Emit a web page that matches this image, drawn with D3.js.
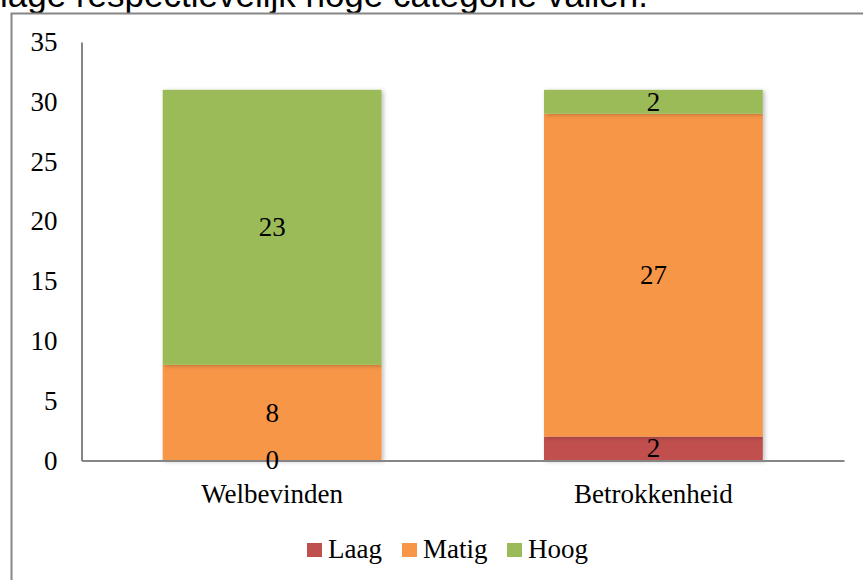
<!DOCTYPE html>
<html>
<head>
<meta charset="utf-8">
<script src="https://cdn.jsdelivr.net/npm/d3@7"></script>
<style>
  body { margin: 0; background: #fff; }
  text { font-family: "Liberation Serif", "DejaVu Serif", serif; }
</style>
</head>
<body>
<svg></svg>
<script>
// data
var categories = ["Welbevinden", "Betrokkenheid"];
var seriesNames = ["Laag", "Matig", "Hoog"];
var laag = [0, 2];
var matig = [8, 27];
var hoog = [23, 2];
var yTicks = [0, 5, 10, 15, 20, 25, 30, 35];
var colors = ["#C0504D", "#F79646", "#9BBB59"];

var W = 863, H = 580;
var fs = "27px";
var svg = d3.select("svg").attr("width", W).attr("height", H);

// bit of the document text above the chart
svg.append("text")
    .attr("x", 0).attr("y", 7)
    .style("font-family", "'Liberation Sans', sans-serif")
    .style("font-size", "35px")
    .attr("fill", "#000")
    .text("lage respectievelijk hoge categorie vallen.");

// chart frame
svg.append("path")
    .attr("d", "M11.5," + H + "V13.5H" + W)
    .attr("fill", "none")
    .attr("stroke", "#868686")
    .attr("stroke-width", 2);

// plot area (window.top is reserved, so own names)
var pLeft = 81.5, pRight = 844, pTop = 42, pBottom = 460.5;

var table = categories.map(function(c, i) {
    return { cat: c, Laag: laag[i], Matig: matig[i], Hoog: hoog[i] };
});
var stacked = d3.stack().keys(seriesNames)(table);

var x = d3.scaleBand().domain(categories).range([pLeft, pRight]).paddingInner(0.426).paddingOuter(0.213);
var y = d3.scaleLinear().domain([0, 35]).range([pBottom, pTop]);

var defs = svg.append("defs");
var f = defs.append("filter").attr("id", "sh").attr("x", "-10%").attr("y", "-10%").attr("width", "130%").attr("height", "130%");
f.append("feDropShadow").attr("dx", 2).attr("dy", 1).attr("stdDeviation", 2).attr("flood-color", "#000").attr("flood-opacity", 0.25);

// bars
var layers = svg.append("g").selectAll("g")
    .data(stacked)
    .enter().append("g")
    .attr("fill", function(d, i) { return colors[i]; });

layers.selectAll("rect")
    .data(function(d) { return d; })
    .enter().append("rect")
    .attr("x", function(d) { return x(d.data.cat); })
    .attr("width", x.bandwidth())
    .attr("y", function(d) { return y(d[1]); })
    .attr("height", function(d) { return y(d[0]) - y(d[1]); })
    .attr("filter", "url(#sh)");

// y axis
var yAxis = svg.append("g")
    .attr("transform", "translate(" + pLeft + ",0)")
    .call(d3.axisLeft(y).tickValues(yTicks).tickSize(0).tickPadding(24));
yAxis.select(".domain").attr("stroke", "#868686").attr("stroke-width", 2);
yAxis.selectAll("text")
    .style("font-size", fs)
    .attr("fill", "#000");

// x axis
var xAxis = svg.append("g")
    .attr("transform", "translate(0," + pBottom + ")")
    .call(d3.axisBottom(x).tickSize(0));
xAxis.select(".domain").attr("stroke", "#868686").attr("stroke-width", 2);
xAxis.selectAll("text")
    .attr("y", 42.5)
    .attr("dy", 0)
    .style("font-size", fs)
    .attr("fill", "#000");

// data labels (on top of the axes)
svg.append("g").selectAll("g")
    .data(stacked)
    .enter().append("g")
    .selectAll("text")
    .data(function(d) { return d; })
    .enter().append("text")
    .attr("x", function(d) { return x(d.data.cat) + x.bandwidth() / 2; })
    .attr("y", function(d) { return (y(d[0]) + y(d[1])) / 2; })
    .attr("dy", "0.33em")
    .attr("text-anchor", "middle")
    .attr("fill", "#000")
    .style("font-size", fs)
    .text(function(d) { return d[1] - d[0]; });

// legend
var legX = [307, 402, 507];
var leg = svg.append("g").selectAll("g")
    .data(seriesNames)
    .enter().append("g")
    .attr("transform", function(d, i) { return "translate(" + legX[i] + ",543)"; });
leg.append("rect").attr("width", 15).attr("height", 14)
    .attr("fill", function(d, i) { return colors[i]; });
leg.append("text")
    .attr("x", 21).attr("y", 15)
    .attr("fill", "#000")
    .style("font-size", fs)
    .text(function(d) { return d; });
</script>
</body>
</html>
